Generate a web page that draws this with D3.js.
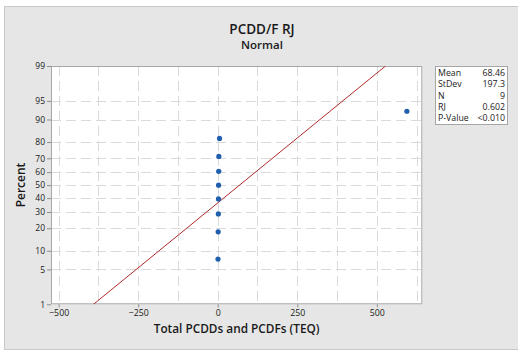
<!DOCTYPE html>
<html>
<head>
<meta charset="utf-8">
<script src="https://cdn.jsdelivr.net/npm/d3@7/dist/d3.min.js"></script>
<style>
  html, body { margin: 0; padding: 0; background: #ffffff; }
  svg { display: block; }
  text { font-family: "Open Sans", "Noto Sans", sans-serif; fill: #1a1a1a; }
</style>
</head>
<body>
<svg id="chart" width="518" height="352"></svg>
<script>
// Sample values (Total PCDDs and PCDFs, TEQ)
const values = [0.9, 1.4, 1.9, 2.3, 2.7, 3.1, 3.6, 5.7, 594.5];

// Probability axis ticks (percent) and x axis ticks
const percentTicks = [1, 5, 10, 20, 30, 40, 50, 60, 70, 80, 90, 95, 99];
const xTicks = [-500, -250, 0, 250, 500];
const xGrid = [-500, -375, -250, -125, 0, 125, 250, 375, 500, 625];

// Summary statistics for the legend box
const statNames = ["Mean", "StDev", "N", "RJ", "P-Value"];
const rjText = "0.602";
const pText = "<0.010";

// Inverse standard normal CDF (Acklam's rational approximation)
function qnorm(p) {
  const a = [-3.969683028665376e+01, 2.209460984245205e+02, -2.759285104469687e+02,
             1.383577518672690e+02, -3.066479806614716e+01, 2.506628277459239e+00];
  const b = [-5.447609879822406e+01, 1.615858368580409e+02, -1.556989798598866e+02,
             6.680131188771972e+01, -1.328068155288572e+01];
  const c = [-7.784894002430293e-03, -3.223964580411365e-01, -2.400758277161838e+00,
             -2.549732539343734e+00, 4.374664141464968e+00, 2.938163982698783e+00];
  const d = [7.784695709041462e-03, 3.224671290700398e-01, 2.445134137142996e+00,
             3.754408661907416e+00];
  const pl = 0.02425, ph = 1 - pl;
  let q, r;
  if (p < pl) {
    q = Math.sqrt(-2 * Math.log(p));
    return (((((c[0]*q+c[1])*q+c[2])*q+c[3])*q+c[4])*q+c[5]) /
           ((((d[0]*q+d[1])*q+d[2])*q+d[3])*q+1);
  } else if (p <= ph) {
    q = p - 0.5; r = q * q;
    return (((((a[0]*r+a[1])*r+a[2])*r+a[3])*r+a[4])*r+a[5])*q /
           (((((b[0]*r+b[1])*r+b[2])*r+b[3])*r+b[4])*r+1);
  } else {
    q = Math.sqrt(-2 * Math.log(1 - p));
    return -(((((c[0]*q+c[1])*q+c[2])*q+c[3])*q+c[4])*q+c[5]) /
            ((((d[0]*q+d[1])*q+d[2])*q+d[3])*q+1);
  }
}

const n = values.length;
const mean = d3.mean(values);
const sd = d3.deviation(values);
const statValues = [d3.format(".2f")(mean), d3.format(".4")(sd), String(n), rjText, pText];

// Plot-position (median rank) for each ordered observation
const sorted = values.slice().sort((a, b) => a - b);
const points = sorted.map((v, i) => ({ x: v, p: (i + 1 - 0.3) / (n + 0.4) }));

const svg = d3.select("#chart");
const plot = { left: 51, top: 66, right: 422.3, bottom: 304.3 };

// Background panel
svg.append("rect")
  .attr("x", 4.5).attr("y", 6.5).attr("width", 520).attr("height", 343)
  .attr("fill", "#e6e6e6").attr("stroke", "#c8c8c8");

const x = d3.scaleLinear().domain([-524, 643]).range([plot.left, plot.right]);
const y = d3.scaleLinear().domain([qnorm(0.01), qnorm(0.99)]).range([plot.bottom, plot.top]);
const yP = p => y(qnorm(p / 100));

// Plot area
svg.append("rect")
  .attr("x", plot.left).attr("y", plot.top)
  .attr("width", plot.right - plot.left).attr("height", plot.bottom - plot.top)
  .attr("fill", "#ffffff");

svg.append("defs").append("clipPath").attr("id", "clip")
  .append("rect")
  .attr("x", plot.left).attr("y", plot.top)
  .attr("width", plot.right - plot.left).attr("height", plot.bottom - plot.top);

// Grid lines
const grid = svg.append("g").attr("stroke", "#dadada").attr("stroke-width", 1)
  .attr("stroke-dasharray", "10,5").attr("fill", "none");
grid.selectAll("line.v").data(xGrid).join("line").attr("class", "v")
  .attr("x1", d => Math.round(x(d)) + 0.5).attr("x2", d => Math.round(x(d)) + 0.5)
  .attr("y1", plot.top).attr("y2", plot.bottom);
grid.selectAll("line.h").data(percentTicks.slice(1, -1)).join("line").attr("class", "h")
  .attr("x1", plot.left).attr("x2", plot.right)
  .attr("y1", d => Math.round(yP(d)) + 0.5).attr("y2", d => Math.round(yP(d)) + 0.5);

// Plot border
svg.append("rect")
  .attr("x", plot.left + 0.5).attr("y", plot.top + 0.5)
  .attr("width", plot.right - plot.left - 1).attr("height", plot.bottom - plot.top - 1)
  .attr("fill", "none").attr("stroke", "#a6a6a6");

// Y axis (percent)
const yAxis = d3.axisLeft(y)
  .tickValues(percentTicks.map(p => qnorm(p / 100)))
  .tickFormat((d, i) => percentTicks[i])
  .tickSize(4).tickPadding(2);
const gy = svg.append("g").attr("transform", `translate(${plot.left},0)`).call(yAxis);
gy.select(".domain").remove();
gy.selectAll(".tick line").attr("stroke", "#8c8c8c");
gy.selectAll(".tick text").attr("font-size", 8.5).attr("fill", "#111111")
  .style("font-family", "'Open Sans', sans-serif");

// X axis
const xAxis = d3.axisBottom(x).tickValues(xTicks).tickSize(3).tickPadding(2);
const gx = svg.append("g").attr("transform", `translate(0,${plot.bottom})`).call(xAxis);
gx.select(".domain").remove();
gx.selectAll(".tick line").attr("stroke", "#8c8c8c");
gx.selectAll(".tick text").attr("font-size", 8.8).attr("fill", "#111111")
  .style("font-family", "'Open Sans', sans-serif");

// Fitted normal line
const fit = [0.01, 0.99].map(p => ({ x: mean + sd * qnorm(p), z: qnorm(p) }));
svg.append("path")
  .attr("clip-path", "url(#clip)")
  .attr("d", d3.line().x(d => x(d.x)).y(d => y(d.z))(fit))
  .attr("fill", "none").attr("stroke", "#b02a2a").attr("stroke-width", 1);

// Data points
svg.append("g").selectAll("circle").data(points).join("circle")
  .attr("cx", d => x(d.x)).attr("cy", d => y(qnorm(d.p)))
  .attr("r", 2.6).attr("fill", "#1f5fae");

// Titles
svg.append("text").attr("x", 262).attr("y", 34).attr("text-anchor", "middle")
  .attr("font-size", 13.5).attr("font-weight", 600).text("PCDD/F RJ");
svg.append("text").attr("x", 262).attr("y", 49).attr("text-anchor", "middle")
  .attr("font-size", 11.5).attr("font-weight", 600).text("Normal");
svg.append("text").attr("x", (plot.left + plot.right) / 2).attr("y", 333).attr("text-anchor", "middle")
  .attr("font-size", 11.8).attr("font-weight", 600).text("Total PCDDs and PCDFs (TEQ)");
svg.append("text").attr("transform", "translate(25,185) rotate(-90)").attr("text-anchor", "middle")
  .attr("font-size", 12).attr("font-weight", 600).text("Percent");

// Statistics box
const box = svg.append("g").attr("transform", "translate(435,66)");
box.append("rect").attr("x", 0.5).attr("y", 0.5).attr("width", 72).attr("height", 58)
  .attr("fill", "#ffffff").attr("stroke", "#a6a6a6");
statNames.forEach((name, i) => {
  box.append("text").attr("x", 3).attr("y", 10 + i * 11.3).attr("font-size", 8.8).text(name);
  box.append("text").attr("x", 70).attr("y", 10 + i * 11.3).attr("font-size", 8.8)
    .attr("text-anchor", "end").text(statValues[i]);
});
</script>
</body>
</html>
